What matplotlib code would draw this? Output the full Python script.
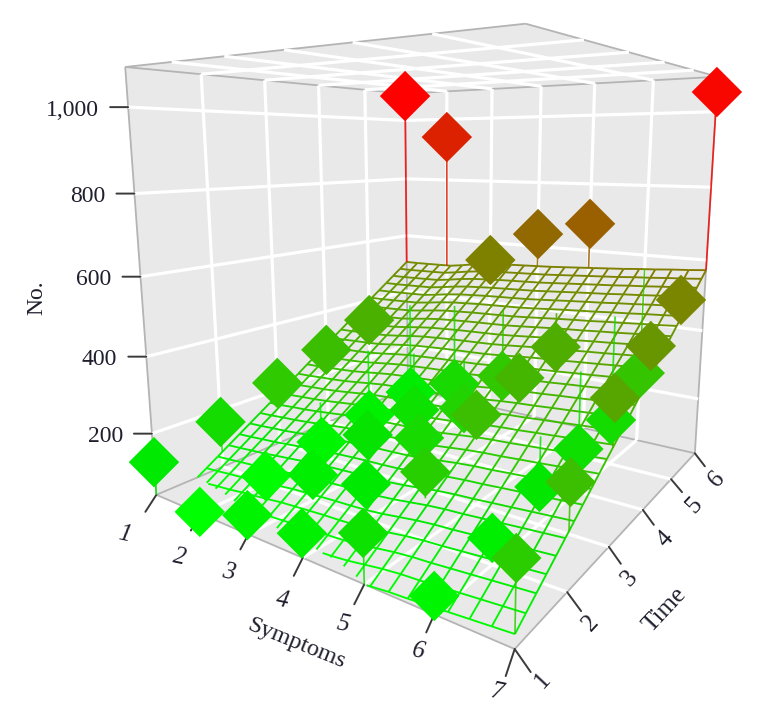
import numpy as np
import matplotlib
matplotlib.use('Agg')
import matplotlib.pyplot as plt
from matplotlib.colors import LinearSegmentedColormap
from mpl_toolkits.mplot3d import proj3d
from mpl_toolkits.mplot3d.art3d import Line3DCollection, Poly3DCollection

plt.rcParams['font.family'] = ['Liberation Serif', 'DejaVu Serif']

symptoms = [1, 2, 3, 4, 5, 6, 7]
times = [1, 2, 3, 4, 5, 6]
z_ticks = [200, 400, 600, 800, 1000]
z_labels = ['200', '400', '600', '800', '1,000']

# counts per time point, one value per symptom score
time1 = [124, 40, 83, 93, 148, 74, 210]
time2 = [166, 53, 102, 124, 200, 97, 269]
time3 = [222, 78, 139, 170, 269, 130, 380]
time4 = [276, 96, 148, 189, 308, 151, 448]
time5 = [333, 112, 172, 229, 346, 164, 523]
time6 = [1082, 942, 542, 639, 681, 246, 1051]

# fitted surface read along its edges, on the mesh lines
surface_low = [-28, -24, -19, -15, -9, -5, -1, 4, 7, 10, 13, 15,
               18, 23, 30, 37, 42, 45, 49, 53, 57, 61, 65]
surface_high = [506, 506, 507, 508, 509, 515, 522, 527, 530, 533, 535, 537,
                539, 542, 545, 548, 551, 554, 558, 561, 565, 568, 572]
surface_rise = [0, .037, .074, .111, .148, .185, .222, .259, .296, .333, .37, .407, .444, .481,
                .519, .556, .593, .63, .667, .704, .741, .778, .815, .852, .889, .926, .963, 1]

Z0, Z1 = 35.6422, 1090.2173
S0, S1, T0, T1 = 1, 7, 1, 6
W, H = 766, 715
SCALE, TX, TY = 3674.773, 442.237, 281.966
VIEW = 0.12

WALL = '#e9e9e9'
EDGE = '#b4b4b4'
TICK = '#3a3a3a'
TEXT = '#1f1f2e'

# colour stops
Z_LOW, Z_HIGH = 40, 1082
stops = [(40, '#00ff00'), (124, '#00e800'), (210, '#2dcc00'), (523, '#7a8500'), (681, '#9a6000'), (1082, '#ff0000')]
cmap = LinearSegmentedColormap.from_list('gr', [((z - Z_LOW) / (Z_HIGH - Z_LOW), c) for z, c in stops])
norm = plt.Normalize(Z_LOW, Z_HIGH)

fig = plt.figure(figsize=(W / 100, H / 100), dpi=100, facecolor='white')
ax = fig.add_subplot(111, projection='3d', computed_zorder=False)
ax.set_xlim(S0, S1, view_margin=0)
ax.set_ylim(T0, T1, view_margin=0)
ax.set_zlim(Z0, Z1, view_margin=0)
ax.view_init(10.0803, -54.9711, 0.0787)
ax.set_proj_type('persp', focal_length=0.2040)
ax.set_box_aspect((0.9920, 0.9963, 1))
ax.set_axis_off()

# place the axes so the projection plane lands where the picture has it
ax.viewLim.intervalx = (-VIEW, VIEW)
ax.viewLim.intervaly = (-VIEW, VIEW)
ax.set_position([(TX - SCALE * VIEW) / W, (H - TY - SCALE * VIEW) / H,
                 2 * SCALE * VIEW / W, 2 * SCALE * VIEW / H])

# walls, floor and ceiling
walls = [
    [(S0, T0, Z0), (S1, T0, Z0), (S1, T1, Z0), (S0, T1, Z0)],
    [(S0, T0, Z1), (S1, T0, Z1), (S1, T1, Z1), (S0, T1, Z1)],
    [(S0, T0, Z0), (S0, T1, Z0), (S0, T1, Z1), (S0, T0, Z1)],
    [(S0, T1, Z0), (S1, T1, Z0), (S1, T1, Z1), (S0, T1, Z1)],
]
for wall in walls:
    ax.add_collection3d(Poly3DCollection([wall], facecolor=WALL, edgecolor='none', zorder=1), autolim=False)

edges = [
    [(S0, T0, Z0), (S1, T0, Z0)], [(S1, T0, Z0), (S1, T1, Z0)],
    [(S1, T1, Z0), (S0, T1, Z0)], [(S0, T1, Z0), (S0, T0, Z0)],
    [(S0, T0, Z1), (S1, T0, Z1)], [(S1, T0, Z1), (S1, T1, Z1)],
    [(S1, T1, Z1), (S0, T1, Z1)], [(S0, T1, Z1), (S0, T0, Z1)],
    [(S0, T0, Z0), (S0, T0, Z1)], [(S1, T1, Z0), (S1, T1, Z1)],
    [(S0, T1, Z0), (S0, T1, Z1)],
]
ax.add_collection3d(Line3DCollection(edges, colors=EDGE, linewidths=1.3, zorder=2), autolim=False)

grid = []
for s in symptoms[1:-1]:
    grid.append([(s, T0, Z0), (s, T1, Z0)])
    grid.append([(s, T0, Z1), (s, T1, Z1)])
    grid.append([(s, T1, Z0), (s, T1, Z1)])
for t in times[1:-1]:
    grid.append([(S0, t, Z0), (S1, t, Z0)])
    grid.append([(S0, t, Z1), (S1, t, Z1)])
    grid.append([(S0, t, Z0), (S0, t, Z1)])
for z in z_ticks:
    grid.append([(S0, T0, z), (S0, T1, z)])
    grid.append([(S0, T1, z), (S1, T1, z)])
ax.add_collection3d(Line3DCollection(grid, colors='white', linewidths=2.3, zorder=3), autolim=False)

# surface mesh, clipped at the floor
mesh_s = np.linspace(S0, S1, len(surface_low))
mesh_t = np.linspace(T0, T1, len(surface_rise))
low = np.array(surface_low, float)
high = np.array(surface_high, float)
rise = np.array(surface_rise, float)
mesh_z = low[:, None] + (high - low)[:, None] * rise[None, :]


def clip_segment(a, b):
    if a[2] < Z0 and b[2] < Z0:
        return None
    if a[2] < Z0 or b[2] < Z0:
        f = (Z0 - a[2]) / (b[2] - a[2])
        cut = tuple(a[k] + f * (b[k] - a[k]) for k in range(3))
        return (cut, b) if a[2] < Z0 else (a, cut)
    return a, b


segments = []
for i, s in enumerate(mesh_s):
    for j, t in enumerate(mesh_t):
        node = (s, t, mesh_z[i, j])
        if i + 1 < len(mesh_s):
            segments.append(clip_segment(node, (mesh_s[i + 1], t, mesh_z[i + 1, j])))
        if j + 1 < len(mesh_t):
            segments.append(clip_segment(node, (s, mesh_t[j + 1], mesh_z[i, j + 1])))
segments = [seg for seg in segments if seg is not None]
seg_colors = [cmap(norm(0.5 * (a[2] + b[2]))) for a, b in segments]
ax.add_collection3d(Line3DCollection(segments, colors=seg_colors, linewidths=1.35, zorder=5), autolim=False)

# points and their stems down or up to the surface
counts = np.array([time1, time2, time3, time4, time5, time6], float)
xs, ys, zs = [], [], []
stems, stem_colors = [], []
for j, t in enumerate(times):
    for i, s in enumerate(symptoms):
        z = counts[j, i]
        xs.append(s)
        ys.append(t)
        zs.append(z)
        f = np.interp(t, mesh_t, rise)
        base = np.interp(s, mesh_s, low) + f * (np.interp(s, mesh_s, high) - np.interp(s, mesh_s, low))
        stems.append([(s, t, z), (s, t, max(base, Z0))])
        stem_colors.append(cmap(norm(z)))
ax.add_collection3d(Line3DCollection(stems, colors=stem_colors, linewidths=1.2, alpha=0.85, zorder=6), autolim=False)
ax.scatter(xs, ys, zs, c=zs, cmap=cmap, norm=norm, marker='D', s=660, linewidths=0,
           depthshade=False, zorder=7)


def put_tick(s, t, z, tick_off, text, text_off, size, **kw):
    x2, y2, _ = proj3d.proj_transform(s, t, z, ax.get_proj())
    ax.annotate('', xy=(x2, y2), xycoords='data', xytext=tick_off, textcoords='offset pixels',
                arrowprops=dict(arrowstyle='-', color=TICK, lw=1.4, shrinkA=0, shrinkB=0))
    ax.annotate(text, xy=(x2, y2), xycoords='data', xytext=text_off, textcoords='offset pixels',
                color=TEXT, fontsize=size, va='center', **kw)


sym_ticks = [(-11, -17), (-9, -17), (-8, -15), (-9, -18), (-10, -20), (-8, -18), (-9, -27)]
sym_text = [(-32, -40), (-21, -44), (-20, -38), (-20, -43), (-21, -40), (-16, -37), (-18, -43)]
for s, tk, tx in zip(symptoms, sym_ticks, sym_text):
    put_tick(s, T0, Z0, tk, str(s), tx, 18, ha='center', rotation=-12, style='italic', rotation_mode='anchor')

time_ticks = [(16, -23), (14, -19), (12, -17), (11, -15), (11, -13), (10, -13)]
time_text = [(28, -31), (24, -31), (21, -32), (23, -30), (23, -26), (22, -26)]
for t, tk, tx in zip(times, time_ticks, time_text):
    put_tick(S1, t, Z0, tk, str(t), tx, 18, ha='center', rotation=47, rotation_mode='anchor')

for z, lab in zip(z_ticks, z_labels):
    put_tick(S0, T0, z, (-18, 0), lab, (-29, -3), 17, ha='right')

fig.text(37 / W, 1 - 298 / H, 'No.', rotation=90, ha='center', va='center', fontsize=17, color=TEXT)
fig.text(296 / W, 1 - 644 / H, 'Symptoms', rotation=-22, ha='center', va='center', fontsize=17.5,
         color=TEXT, rotation_mode='anchor')
fig.text(665 / W, 1 - 610 / H, 'Time', rotation=47, ha='center', va='center', fontsize=18,
         color=TEXT, rotation_mode='anchor')

fig.savefig('out.png', dpi=100)
